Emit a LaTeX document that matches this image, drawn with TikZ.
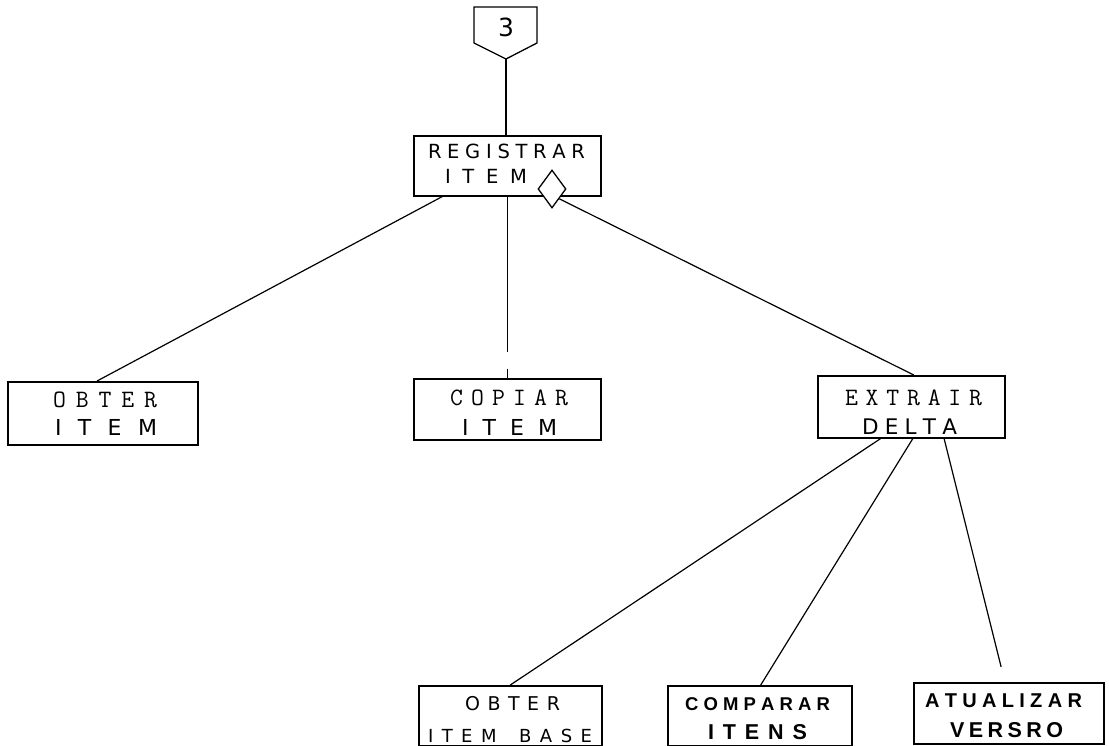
\documentclass[tikz,border=0pt]{standalone}
\usepackage{fontspec}
\usetikzlibrary{shapes.geometric,calc}
% plotter-like lines and bold lettering; typewriter lines use \ttfamily
\newfontfamily\plotfont{DejaVu Sans}
\newfontfamily\heavyfont{Liberation Sans}
% set a word letter by letter, stretched to a given width
\def\spreadloop#1{\ifx\relax#1\unskip\else#1\hfil\expandafter\spreadloop\fi}
\newcommand\spreadtext[2]{\hbox to #1{\spreadloop#2\relax}}
\begin{document}
\begin{tikzpicture}[x=1pt,y=-1pt,
  box/.style={draw,line width=1.6pt,inner sep=0pt,anchor=north west},
  link/.style={line width=1.2pt},
  txt/.style={inner sep=0pt,anchor=center},
  tw/.style={txt,font=\ttfamily\fontsize{25}{25}\selectfont},
  pl/.style={txt,font=\plotfont\fontsize{#1}{#1}\selectfont},
  hv/.style={txt,font=\heavyfont\bfseries\fontsize{#1}{#1}\selectfont}]
\useasboundingbox (0,0) rectangle (1109,746);
\clip (0,0) rectangle (1109,746);

% off-page connector
\draw[line width=1.3pt] (474,7) -- (537,7) -- (537,43) -- (506,59) -- (474,43) -- cycle;
\coordinate (conn) at (506,59);
\node[pl=25] (three) at (506,27) {3};

% boxes
\node[box,minimum width=187pt,minimum height=60pt] (reg) at (413,135) {};
\node[box,minimum width=190pt,minimum height=63pt] (obt) at (7,381) {};
\node[box,minimum width=187pt,minimum height=61pt] (cop) at (413,378) {};
\node[box,minimum width=187pt,minimum height=62pt] (ext) at (817,375) {};
\node[box,minimum width=183pt,minimum height=60pt] (obb) at (418,685) {};
\node[box,minimum width=184pt,minimum height=60pt] (cmp) at (667,685) {};
\node[box,minimum width=190pt,minimum height=61pt] (atu) at (913,682) {};

% selection diamond on the parent box
\node[draw,fill=white,diamond,line width=1.3pt,inner sep=0pt,minimum width=28pt,minimum height=38pt] (sel) at (552,189) {};

% labels
\node[pl=19.5] (t1) at (506.5,151.5) {\spreadtext{157pt}{REGISTRAR}};
\node[pl=19.5] (t2) at (486,176.5) {\spreadtext{82pt}{ITEM}};
\node[tw] (t3) at (105,399.5) {\spreadtext{104pt}{OBTER}};
\node[pl=22] (t4) at (106,427.5) {\spreadtext{102pt}{ITEM}};
\node[tw] (t5) at (509,397.5) {\spreadtext{118pt}{COPIAR}};
\node[pl=22] (t6) at (509.5,427.5) {\spreadtext{95pt}{ITEM}};
\node[tw] (t7) at (913.5,397.5) {\spreadtext{137pt}{EXTRAIR}};
\node[pl=21.5] (t8) at (909.5,427) {\spreadtext{95pt}{DELTA}};
\node[pl=19] (t9) at (512.5,703.5) {\spreadtext{95pt}{OBTER}};
\node[pl=18] (t10) at (510,736) {\spreadtext{164pt}{ITEM~BASE}};
\node[hv=18.5] (t11) at (757.5,704) {\spreadtext{145pt}{COMPARAR}};
\node[hv=21.5] (t12) at (757.5,732.5) {\spreadtext{99pt}{ITENS}};
\node[hv=20] (t13) at (1003.5,700.5) {\spreadtext{157pt}{ATUALIZAR}};
\node[hv=21.5] (t14) at (1006.5,730.5) {\spreadtext{113pt}{VERSRO}};

% connectors
\draw[link] (conn) -- (reg.north -| conn);
\draw[link] ($(reg.south west)!0.155!(reg.south east)$) -- ($(obt.north west)!0.47!(obt.north east)$);
\draw[link,dash pattern=on 155pt off 17pt on 20pt] (reg.south) -- (cop.north);
\draw[link] (sel.south east) -- ($(ext.north west)!0.513!(ext.north east)$);
\draw[link] ($(ext.south west)!0.337!(ext.south east)$) -- ($(obb.north west)!0.50!(obb.north east)$);
\draw[link] ($(ext.south west)!0.508!(ext.south east)$) -- ($(cmp.north west)!0.505!(cmp.north east)$);
\draw[link] ($(ext.south west)!0.674!(ext.south east)$) -- ($(atu.north west)!0.46!(atu.north east)+(0,-15)$);
\end{tikzpicture}
\end{document}
